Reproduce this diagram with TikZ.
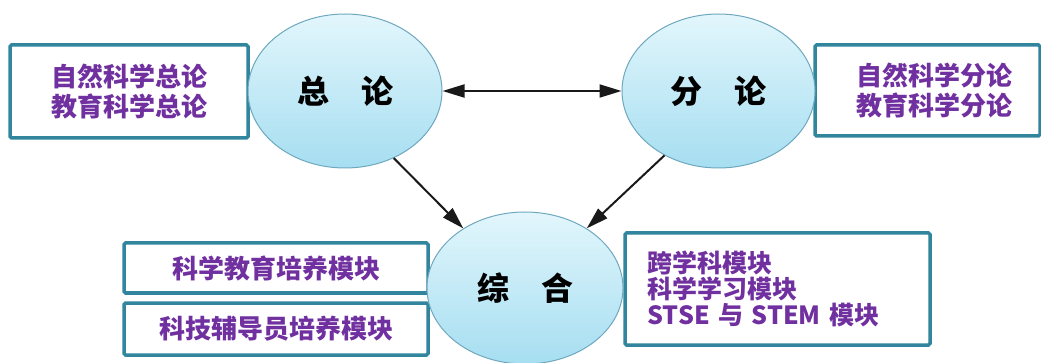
\documentclass[tikz,border=0pt]{standalone}
\usepackage{fontspec}
\newfontfamily\cjk{Noto Sans CJK SC}
\usetikzlibrary{shapes.geometric,arrows.meta}
\definecolor{boxline}{HTML}{31859C}
\definecolor{boxtext}{HTML}{7030A0}
\definecolor{elline}{HTML}{6FA8BE}
\definecolor{eltop}{HTML}{E2F6FC}
\definecolor{elbot}{HTML}{A6DEF1}
\tikzset{
  x=1pt, y=-1pt,
  infobox/.style={draw=boxline, line width=3.5pt, fill=white, rounded corners=1.5pt,
    text=boxtext, font=\cjk\bfseries\fontsize{26}{30}\selectfont, align=center, inner sep=0pt},
  topic/.style={ellipse, draw=elline, line width=1pt, top color=eltop, bottom color=elbot,
    inner sep=0pt, text=black, font=\cjk\bfseries\fontsize{32}{36}\selectfont},
  link/.style={line width=2pt, draw=black!90, -{Triangle[length=22pt,width=13pt]}},
  dlink/.style={line width=2pt, draw=black!90, {Triangle[length=22pt,width=13pt]}-{Triangle[length=22pt,width=13pt]}}
}
\begin{document}
\begin{tikzpicture}
\useasboundingbox (0,0) rectangle (1041,363);
% boxes
\node[infobox, minimum width=238pt, minimum height=93pt] (b1) at (129,91.5) {自然科学总论\\教育科学总论};
\node[infobox, minimum width=225pt, minimum height=91pt] (b2) at (927.5,90.5) {\hspace*{14pt}自然科学分论\\\hspace*{14pt}教育科学分论};
\node[infobox, minimum width=304pt, minimum height=50pt] (b3) at (276,268) {科学教育培养模块};
\node[infobox, minimum width=304pt, minimum height=52pt] (b4) at (276,329) {科技辅导员培养模块};
\node[infobox, minimum width=305pt, minimum height=112pt, text width=260pt, inner xsep=0pt, align=left,
  font=\cjk\bfseries\fontsize{25}{26}\selectfont] (b5) at (777.5,289) {跨学科模块\\科学学习模块\\STSE 与 STEM 模块};
% ellipses
\node[topic, minimum width=194pt, minimum height=154pt] (zl) at (345,91) {总\hspace{1em}论};
\node[topic, minimum width=193pt, minimum height=154pt] (fl) at (718.5,91) {分\hspace{1em}论};
\node[topic, minimum width=196pt, minimum height=152pt] (zh) at (525,288) {综\hspace{1em}合};
% connectors
\draw[dlink] (zl.east) -- (fl.west);
\draw[link] (zl.-54) -- (zh.136);
\draw[link] (fl.230) -- (zh.44);
\end{tikzpicture}
\end{document}
